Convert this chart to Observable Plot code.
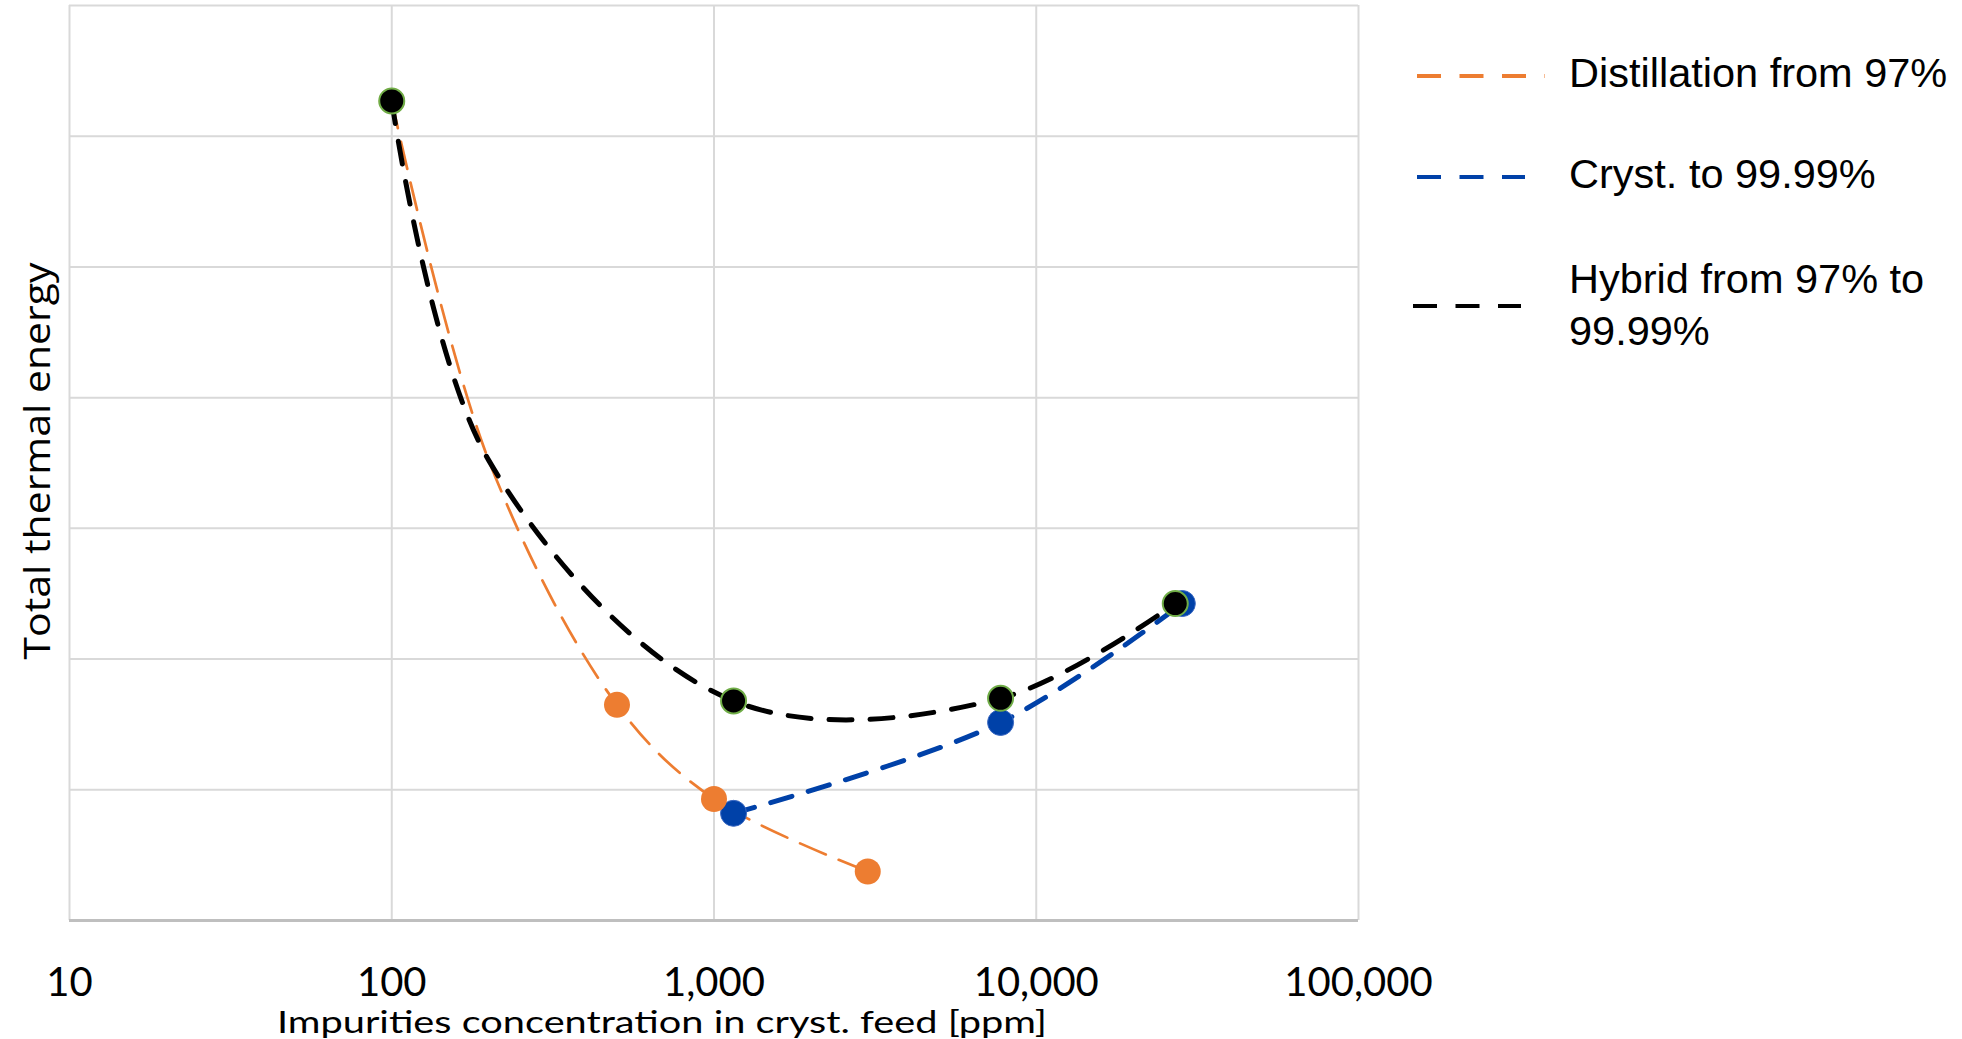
<!DOCTYPE html>
<html><head><meta charset="utf-8">
<script src="https://cdn.jsdelivr.net/npm/d3@7"></script>
<script src="https://cdn.jsdelivr.net/npm/@observablehq/plot@0.6"></script>
<style>html,body{margin:0;padding:0;background:#fff;} #chart{position:relative;width:1962px;height:1039px;}</style>
</head><body><div id="chart"></div>
<script>
// ---- data ----
const xTicks = [10, 100, 1000, 10000, 100000];
const yGrid = [0, 1, 2, 3, 4, 5, 6, 7];
const seriesNames = ["Distillation from 97%", "Cryst. to 99.99%", "Hybrid from 97% to", "99.99%"];
const xTitle = "Impurities concentration in cryst. feed [ppm]";
const yTitle = "Total thermal energy";

const distX = [100, 200, 500, 1000, 3000];
const distY = [6.27, 3.52, 1.65, 0.93, 0.375];
const distMarked = [true, false, true, true, true];

const crysX = [1150, 7750, 28400];
const crysY = [0.82, 1.515, 2.425];
const crysMarked = [true, true, true];

const hybX = [100, 200, 1150, 7750, 27000];
const hybY = [6.27, 3.52, 1.68, 1.70, 2.425];
const hybMarked = [true, false, true, true, true];

const colors = ["#ED7D31", "#0041A8", "#000000"];

const rows = (xs, ys, ms) => xs.map((x, i) => ({x, y: ys[i], m: ms[i]}));
const dist = rows(distX, distY, distMarked);
const crys = rows(crysX, crysY, crysMarked);
const hyb = rows(hybX, hybY, hybMarked);

const plot = Plot.plot({
  width: 1962, height: 1039,
  marginLeft: 69, marginRight: 604, marginTop: 5, marginBottom: 119,
  x: {type: "log", domain: [10, 100000]},
  y: {domain: [0, 7], axis: null},
  style: {background: "#fff", overflow: "visible", fontFamily: "Lato"},
  marks: [
    Plot.gridX(xTicks, {stroke: "#D9D9D9", strokeOpacity: 1, strokeWidth: 2}),
    Plot.gridY(yGrid, {stroke: "#D9D9D9", strokeOpacity: 1, strokeWidth: 2}),
    Plot.ruleY([0], {stroke: "#BFBFBF", strokeWidth: 3}),
    Plot.axisX(xTicks, {tickSize: 0, tickPadding: 47, tickFormat: d3.format(","), fontSize: 40, fontFamily: "Lato", fill: "#000", label: null}),
    Plot.line(dist, {x: "x", y: "y", stroke: colors[0], strokeWidth: 2.7, strokeDasharray: "28,14", curve: "catmull-rom"}),
    Plot.line(crys, {x: "x", y: "y", stroke: colors[1], strokeWidth: 5, strokeDasharray: "22,17", curve: "catmull-rom"}),
    Plot.line(hyb, {x: "x", y: "y", stroke: colors[2], strokeWidth: 5, strokeDasharray: "23,18", curve: "catmull-rom"}),
    Plot.dot(crys.filter(d => d.m), {x: "x", y: "y", r: 13, fill: colors[1], stroke: "#3A68C2", strokeWidth: 1}),
    Plot.dot(dist.filter(d => d.m), {x: "x", y: "y", r: 13, fill: colors[0]}),
    Plot.dot(hyb.filter(d => d.m), {x: "x", y: "y", r: 12.5, fill: "#000", stroke: "#70AD47", strokeWidth: 2})
  ]
});
document.getElementById("chart").appendChild(plot);

const svg = d3.select(plot);
// axis titles
svg.append("text").attr("x", 662).attr("y", 1033).attr("text-anchor", "middle")
  .attr("font-family", "Lato").attr("font-size", 30).attr("fill", "#000")
  .attr("textLength", 770).attr("lengthAdjust", "spacingAndGlyphs").text(xTitle);
svg.append("text").attr("transform", "translate(50,461) rotate(-90)").attr("text-anchor", "middle")
  .attr("font-family", "Open Sans").attr("font-size", 36).attr("fill", "#000")
  .attr("textLength", 397).attr("lengthAdjust", "spacingAndGlyphs").text(yTitle);

// legend
const leg = [
  {c: colors[0], x1: 1417, x2: 1545, y: 76, ty: [87], t: [seriesNames[0]]},
  {c: colors[1], x1: 1417, x2: 1525, y: 177, ty: [188], t: [seriesNames[1]]},
  {c: colors[2], x1: 1413, x2: 1521, y: 306, ty: [293, 345], t: [seriesNames[2], seriesNames[3]]}
];
const lg = svg.append("g").attr("text-anchor", "start");
leg.forEach(d => {
  lg.append("line").attr("x1", d.x1).attr("x2", d.x2).attr("y1", d.y).attr("y2", d.y)
    .attr("stroke", d.c).attr("stroke-width", 4).attr("stroke-dasharray", "24,18.5");
  d.t.forEach((t, i) => lg.append("text").attr("x", 1569).attr("y", d.ty[i]).attr("text-anchor", "start")
    .attr("font-family", "Liberation Sans, Arial").attr("font-size", 41.5).attr("fill", "#000").text(t));
});
</script>
</body></html>
